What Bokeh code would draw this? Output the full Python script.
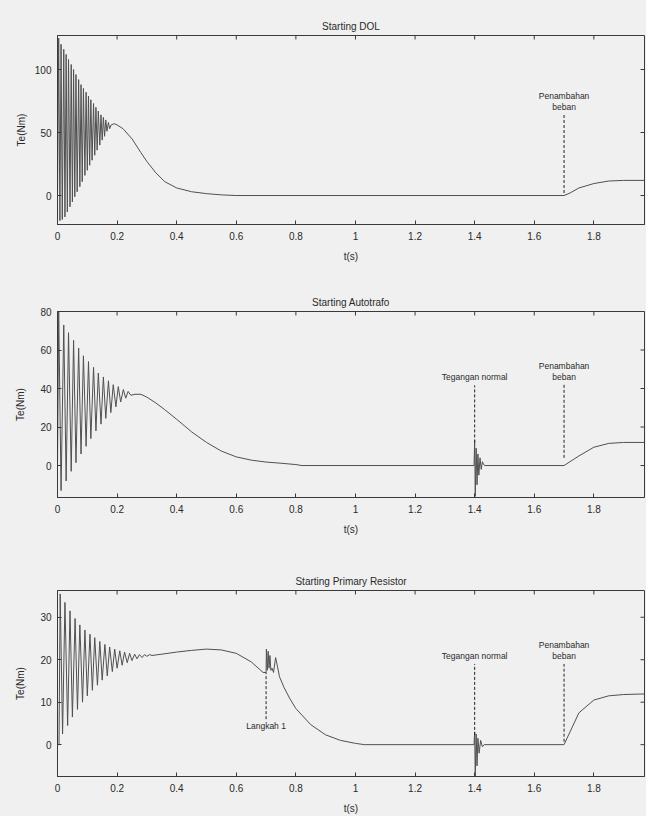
import math
from bokeh.plotting import figure
from bokeh.layouts import column
from bokeh.models import Range1d, FixedTicker, NumeralTickFormatter
from bokeh.embed import file_html
from bokeh.resources import INLINE

# ---------------- data ----------------
# Panel 1: Starting DOL
dol_t = [0.0, 0.004, 0.008, 0.012, 0.016, 0.021, 0.025, 0.029, 0.033, 0.037, 0.042, 0.046,
         0.050, 0.054, 0.058, 0.062, 0.066, 0.071, 0.075, 0.079, 0.083, 0.087, 0.092, 0.096,
         0.100, 0.104, 0.108, 0.112, 0.116, 0.121, 0.125, 0.129, 0.133, 0.137, 0.142, 0.146,
         0.150, 0.154, 0.158, 0.162, 0.166, 0.171, 0.175, 0.18, 0.19, 0.20, 0.22, 0.25, 0.28,
         0.30, 0.33, 0.36, 0.40, 0.45, 0.50, 0.55, 0.60, 1.70, 1.72, 1.75, 1.80, 1.85, 1.90, 2.00]
dol_te = [0, 125, -20, 120, -19, 116, -17, 112, -13, 108, -9, 104,
          -5, 100, -1, 96, 3, 92, 7, 88, 11, 85, 16, 82,
          20, 79, 24, 76, 28, 73, 32, 70, 36, 67, 40, 64,
          44, 62, 47, 60, 51, 58, 53, 56, 57, 56, 53, 45, 34,
          27, 18, 11, 6, 3, 1.5, 0.5, 0, 0, 2, 6, 9.5, 11.5, 12, 12]

# Panel 2: Starting Autotrafo
auto_t = [0.0, 0.004, 0.012, 0.021, 0.029, 0.037, 0.046, 0.054, 0.062, 0.071, 0.079, 0.087,
          0.096, 0.104, 0.112, 0.121, 0.129, 0.137, 0.146, 0.154, 0.162, 0.171, 0.179, 0.187,
          0.196, 0.204, 0.212, 0.221, 0.229, 0.237, 0.246, 0.26, 0.28, 0.30, 0.33, 0.36, 0.40,
          0.45, 0.50, 0.55, 0.60, 0.65, 0.70, 0.75, 0.80, 0.82, 1.398, 1.400, 1.402, 1.405,
          1.408, 1.411, 1.414, 1.418, 1.422, 1.426, 1.430, 1.435, 1.70, 1.72, 1.75, 1.80, 1.85,
          1.90, 2.00]
auto_te = [0, 80, -13, 73, -8, 69, -3, 65, 1.5, 61, 6, 57,
           10, 54, 14, 51, 18, 48, 21.5, 46, 24.5, 44, 27.5, 42,
           30.5, 41, 33, 39.5, 35, 38.5, 36.5, 37, 37, 35.5, 32.5, 29, 24,
           17.5, 12, 7.5, 4.5, 2.8, 1.8, 1.2, 0.5, 0, 0, 13, -16, 9,
           -10, 6, -5, 4, -2, 2, 0.5, 0, 0, 2, 5, 9.5, 11.5,
           12, 12]

# Panel 3: Starting Primary Resistor
res_t = [0.0, 0.005, 0.009, 0.017, 0.025, 0.034, 0.042, 0.050, 0.059, 0.067, 0.075, 0.084,
         0.092, 0.100, 0.109, 0.117, 0.125, 0.134, 0.142, 0.150, 0.159, 0.167, 0.175, 0.184,
         0.192, 0.200, 0.209, 0.217, 0.225, 0.234, 0.242, 0.250, 0.259, 0.267, 0.275, 0.284,
         0.292, 0.300, 0.309, 0.317, 0.35, 0.40, 0.45, 0.50, 0.55, 0.60, 0.65, 0.69, 0.700,
         0.701, 0.704, 0.707, 0.710, 0.713, 0.716, 0.720, 0.725, 0.732, 0.738, 0.745, 0.76,
         0.78, 0.80, 0.85, 0.90, 0.95, 1.00, 1.03, 1.398, 1.400, 1.402, 1.405, 1.408, 1.411,
         1.415, 1.420, 1.426, 1.432, 1.70, 1.72, 1.75, 1.80, 1.85, 1.90, 2.00]
res_te = [0, 0, 35.5, 2.5, 33.5, 4.5, 31.5, 6.5, 29.7, 8.3, 28.2, 10,
          27, 11.5, 26, 12.8, 25.2, 14, 24.3, 15.2, 23.6, 16.2, 23, 17.2,
          22.5, 18, 22.1, 18.7, 21.8, 19.3, 21.5, 19.8, 21.3, 20.2, 21.2, 20.5,
          21.2, 20.8, 21.2, 21, 21.3, 21.8, 22.2, 22.5, 22.3, 21.5, 19.5, 17, 17,
          22.5, 17.5, 22, 18, 21, 17.5, 18, 17, 20.5, 18.5, 16, 13.5,
          10.8, 8.5, 4.7, 2.3, 1.0, 0.3, 0, 0, 3, -7.5, 2.5, -5, 1.5,
          -2, 1, -0.5, 0, 0, 3, 7.5, 10.5, 11.5, 11.8, 12]

titles = ["Starting DOL", "Starting Autotrafo", "Starting Primary Resistor"]
x_ticks = [0, 0.2, 0.4, 0.6, 0.8, 1.0, 1.2, 1.4, 1.6, 1.8]
y_ticks = [[0, 50, 100], [0, 20, 40, 60, 80], [0, 10, 20, 30]]
y_limits = [(-23, 127), (-16.6, 80), (-7.5, 36.3)]
x_limits = (0, 1.97)

# annotations: (t, y_low, y_high, text lines, text side)
annots = [
    [(1.7, 2, 64, ["Penambahan", "beban"], "above")],
    [(1.4, 12, 41.6, ["Tegangan normal"], "above"),
     (1.7, 4, 42, ["Penambahan", "beban"], "above")],
    [(0.7, 6, 17, ["Langkah 1"], "below"),
     (1.4, 2.3, 19, ["Tegangan normal"], "above"),
     (1.7, 0.7, 19, ["Penambahan", "beban"], "above")],
]

# ---------------- styling ----------------
FONT = "Liberation Sans"
BG = "#f0f0f0"
LINE = "#505050"
AX = "#3a3a3a"
TXT = "#2a2a2a"

W = 646
heights = [279, 276, 261]
borders_top = [35, 32, 35]
borders_bottom = [55, 58, 39]
label_standoff = [5, 11, 11]


def style_axis(ax):
    ax.major_tick_in = 4
    ax.major_tick_out = 0
    ax.minor_tick_line_color = None
    ax.axis_line_color = AX
    ax.major_tick_line_color = AX
    ax.major_label_text_font = FONT
    ax.major_label_text_color = TXT
    ax.major_label_text_font_size = "10px"
    ax.axis_label_text_font = FONT
    ax.axis_label_text_font_style = "normal"
    ax.axis_label_text_color = TXT
    ax.axis_label_text_font_size = "10px"


def make_panel(i, t, te):
    ylo, yhi = y_limits[i]
    p = figure(width=W, height=heights[i], output_backend="svg", toolbar_location=None,
               x_range=Range1d(*x_limits), y_range=Range1d(ylo, yhi),
               min_border_left=57, min_border_right=2,
               min_border_top=borders_top[i], min_border_bottom=borders_bottom[i])
    p.background_fill_color = BG
    p.border_fill_color = BG
    p.outline_line_color = AX
    p.grid.visible = False

    p.title.text = titles[i]
    p.title.align = "center"
    p.title.text_font = FONT
    p.title.text_font_style = "normal"
    p.title.text_font_size = "10px"
    p.title.text_color = TXT
    p.title.standoff = 8

    p.xaxis.ticker = FixedTicker(ticks=x_ticks)
    p.yaxis.ticker = FixedTicker(ticks=y_ticks[i])
    p.xaxis.formatter = NumeralTickFormatter(format="0.[0]")
    p.xaxis.axis_label = "t(s)"
    p.yaxis.axis_label = "Te(Nm)"
    style_axis(p.xaxis[0])
    style_axis(p.yaxis[0])
    p.xaxis.major_label_standoff = 7
    p.xaxis.axis_label_standoff = 8
    p.yaxis.major_label_standoff = 6
    p.yaxis.axis_label_standoff = label_standoff[i]

    # mirrored inward ticks on the top and right edges of the box
    p.scatter(x=x_ticks, y=[yhi] * len(x_ticks), marker="dash", angle=math.pi / 2,
              size=8, line_color=AX, line_width=1)
    p.scatter(x=[x_limits[1]] * len(y_ticks[i]), y=y_ticks[i], marker="dash",
              size=8, line_color=AX, line_width=1)

    p.line(t, te, line_color=LINE, line_width=1)

    for (ta, y0, y1, lines, side) in annots[i]:
        p.segment(x0=[ta], y0=[y0], x1=[ta], y1=[y1], line_color="#222222",
                  line_width=1, line_dash="3 2")
        n = len(lines)
        for k, txt in enumerate(lines):
            if side == "above":
                p.text(x=[ta], y=[y1], text=[txt], text_align="center",
                       text_baseline="bottom", y_offset=-3 - 11 * (n - 1 - k),
                       text_font_size="8.5px", text_color=TXT,
                       text_font={"value": FONT})
            else:
                p.text(x=[ta], y=[y0], text=[txt], text_align="center",
                       text_baseline="top", y_offset=2 + 11 * k,
                       text_font_size="8.5px", text_color=TXT,
                       text_font={"value": FONT})
    return p


panels = [make_panel(0, dol_t, dol_te),
          make_panel(1, auto_t, auto_te),
          make_panel(2, res_t, res_te)]

layout = column(*panels, spacing=0)
layout.styles = {"background-color": BG}
open("out.html", "w").write(file_html(layout, INLINE))
